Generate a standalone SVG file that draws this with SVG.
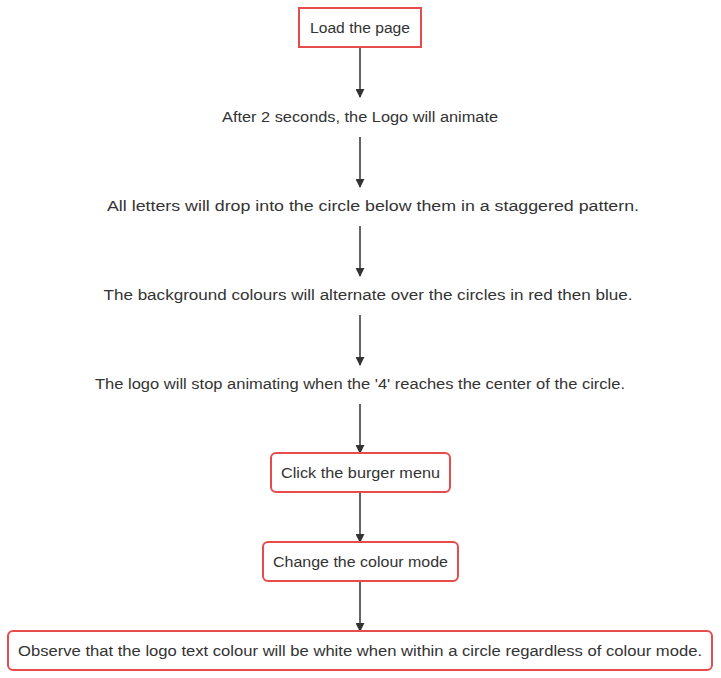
<svg xmlns="http://www.w3.org/2000/svg" width="721" height="678" viewBox="0 0 721 678">
<defs>
<style>
.t{font-family:"Liberation Sans","DejaVu Sans",sans-serif;font-size:14px;fill:#333;text-anchor:middle;dominant-baseline:central}
.b{fill:#fff;stroke:#e84b4b;stroke-width:2}
.e{stroke:#333;stroke-width:1.5;fill:none;marker-end:url(#ah)}
</style>
<marker id="ah" viewBox="0 0 10 10" refX="9" refY="5" markerWidth="9" markerHeight="9" markerUnits="userSpaceOnUse" orient="auto">
<path d="M0,0L10,5L0,10z" fill="#333"/>
</marker>
</defs>
<rect width="721" height="678" fill="#fff"/>
<g id="connectors">
<line class="e" x1="360" y1="47" x2="360" y2="97"/>
<line class="e" x1="360" y1="137" x2="360" y2="187"/>
<line class="e" x1="360" y1="226" x2="360" y2="276"/>
<line class="e" x1="360" y1="315" x2="360" y2="365"/>
<line class="e" x1="360" y1="404" x2="360" y2="453"/>
<line class="e" x1="360" y1="492" x2="360" y2="542"/>
<line class="e" x1="360" y1="581" x2="360" y2="631"/>
</g>
<g id="n1"><rect class="b" x="299" y="8" width="122" height="39"/><text class="t" x="360" y="28" textLength="100" lengthAdjust="spacingAndGlyphs">Load the page</text></g>
<g id="n2"><text class="t" x="360" y="117" textLength="276" lengthAdjust="spacingAndGlyphs">After 2 seconds, the Logo will animate</text></g>
<g id="n3"><text class="t" x="373" y="206" textLength="532" lengthAdjust="spacingAndGlyphs">All letters will drop into the circle below them in a staggered pattern.</text></g>
<g id="n4"><text class="t" x="368" y="295" textLength="529" lengthAdjust="spacingAndGlyphs">The background colours will alternate over the circles in red then blue.</text></g>
<g id="n5"><text class="t" x="360" y="384" textLength="530" lengthAdjust="spacingAndGlyphs">The logo will stop animating when the '4' reaches the center of the circle.</text></g>
<g id="n6"><rect class="b" x="271" y="453" width="179" height="39" rx="5"/><text class="t" x="360.5" y="473" textLength="159" lengthAdjust="spacingAndGlyphs">Click the burger menu</text></g>
<g id="n7"><rect class="b" x="263" y="542" width="195" height="39" rx="5"/><text class="t" x="360.5" y="562" textLength="175" lengthAdjust="spacingAndGlyphs">Change the colour mode</text></g>
<g id="n8"><rect class="b" x="8" y="631" width="704" height="39" rx="5"/><text class="t" x="360" y="651" textLength="684" lengthAdjust="spacingAndGlyphs">Observe that the logo text colour will be white when within a circle regardless of colour mode.</text></g>
</svg>
